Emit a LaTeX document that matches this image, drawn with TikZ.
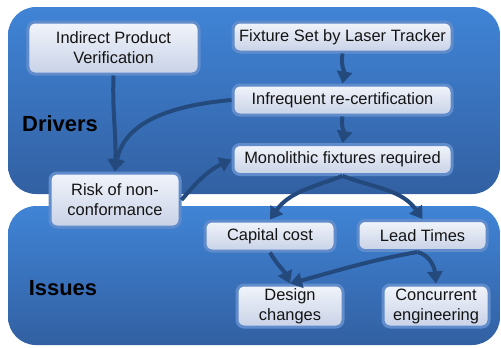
\documentclass[tikz,border=0pt]{standalone}
\usepackage{fontspec}
\setmainfont{Liberation Sans}
\usetikzlibrary{arrows.meta,calc}
\definecolor{paneltop}{RGB}{64,132,214}
\definecolor{panelbot}{RGB}{50,96,162}
\definecolor{boxtop}{RGB}{241,244,250}
\definecolor{boxbot}{RGB}{200,210,231}
\definecolor{boxedge}{RGB}{96,140,204}
\definecolor{arrowc}{RGB}{36,73,124}
\definecolor{txt}{RGB}{20,20,20}
\begin{document}
\begin{tikzpicture}[x=1bp,y=-1bp,
 panel/.style={rounded corners=28bp, top color=paneltop, bottom color=panelbot, draw=none},
 box/.style={rectangle, rounded corners=7bp, top color=boxtop, bottom color=boxbot, draw=boxedge, line width=3bp, align=center, inner sep=0pt, font=\fontsize{16.5}{20}\selectfont, text=txt},
 arr/.style={draw=arrowc, line width=4bp, -{Triangle[length=12bp,width=15bp]}},
 lab/.style={font=\fontsize{22}{26}\selectfont\bfseries, text=black, inner sep=0pt}]
\useasboundingbox (0,0) rectangle (501,347);
\path[panel] (8,7) rectangle (500,194);
\path[panel] (8,206) rectangle (500,345);
\node[lab, anchor=base] (drv) at (60,131) {Drivers};
\node[lab, anchor=base] (iss) at (63,295) {Issues};
\node[box, minimum width=171bp, minimum height=52bp] (ipv) at (113.5,48) {Indirect Product\\Verification};
\node[box, minimum width=219bp, minimum height=30bp] (fix) at (342.5,37) {Fixture Set by Laser Tracker};
\node[box, minimum width=219bp, minimum height=30bp] (inf) at (342.5,100) {Infrequent re-certification};
\node[box, minimum width=219bp, minimum height=30bp] (mono) at (342.5,159.5) {Monolithic fixtures required};
\node[box, minimum width=130bp, minimum height=54bp] (risk) at (115,200) {Risk of non-\\conformance};
\node[box, minimum width=130bp, minimum height=30bp] (cap) at (270,236) {Capital cost};
\node[box, minimum width=129bp, minimum height=30bp] (lead) at (422.5,235.5) {Lead Times};
\node[box, minimum width=106bp, minimum height=42bp] (des) at (290,306) {Design\\changes};
\node[box, minimum width=106bp, minimum height=42bp] (conc) at (436,306) {Concurrent\\engineering};
\draw[arr] (ipv.south) to[out=-92,in=88] (risk.north);
\draw[arr] (inf.west) to[out=185,in=80] (risk.north);
\draw[arr] (fix.south) to[out=-100,in=80] (inf.north);
\draw[arr] (inf.south) to[out=-100,in=80] (mono.north);
\draw[arr] (risk.east) to[out=50,in=205] (mono.west);
\draw[arr] (mono.south) to[out=-160,in=55] (cap.north);
\draw[arr] (mono.south) to[out=-20,in=125] (lead.north);
\draw[arr] (cap.south) to[out=-60,in=115] (des.north);
\draw[arr] ([xshift=-5bp]lead.south) to[out=190,in=15] (des.north);
\draw[arr] ([xshift=-5bp]lead.south) to[out=-15,in=95] (conc.north);
\end{tikzpicture}
\end{document}
